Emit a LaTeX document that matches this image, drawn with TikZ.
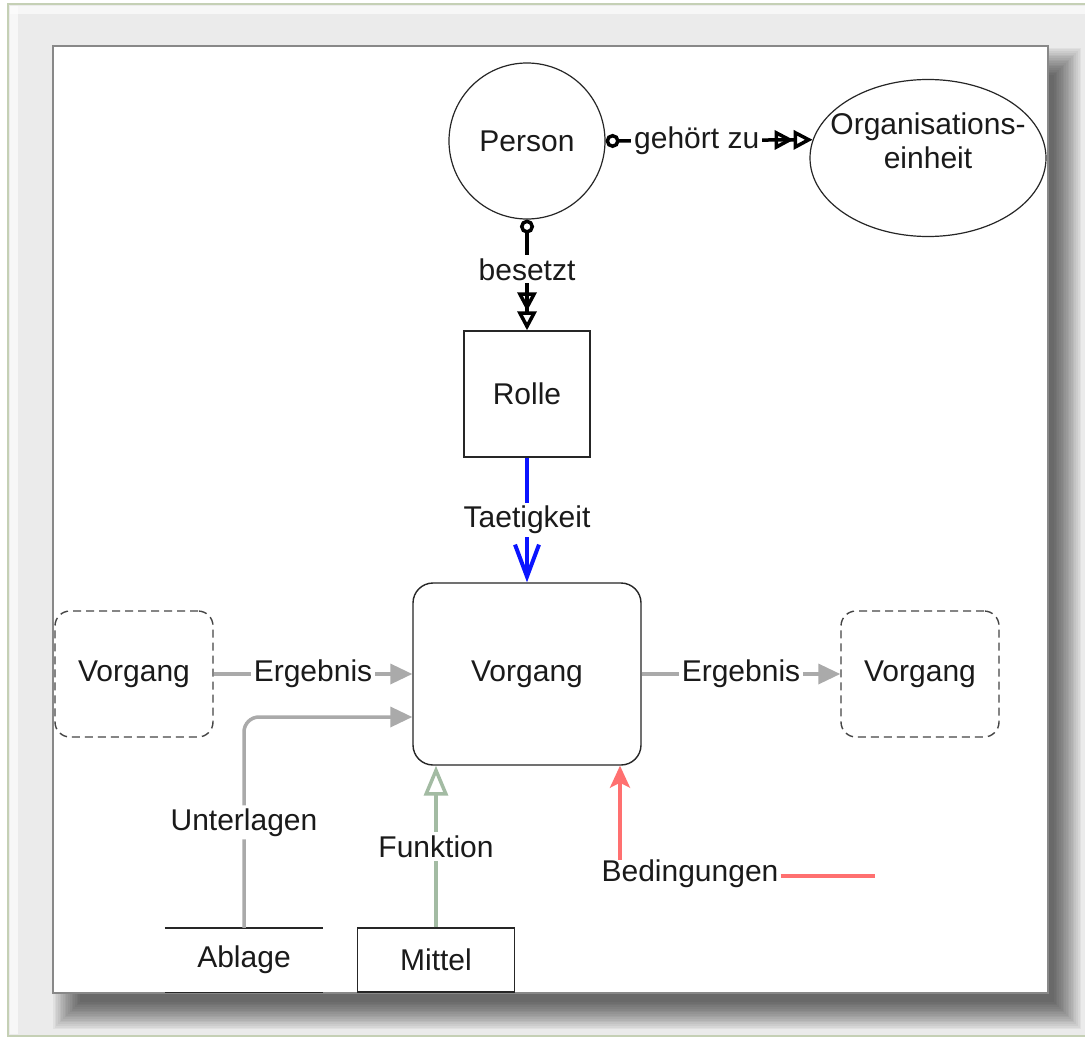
\documentclass[tikz,border=0pt]{standalone}
\usepackage{fontspec}
\setmainfont{Liberation Sans}
\usetikzlibrary{arrows.meta,shapes.geometric}
\definecolor{framebg}{HTML}{EBEBEB}
\definecolor{frameline}{HTML}{C5D0B5}
\definecolor{canvasline}{HTML}{888888}
\definecolor{conngrey}{HTML}{AAAAAA}
\definecolor{conngreen}{HTML}{A3BBA3}
\definecolor{connred}{HTML}{FF7070}
\definecolor{connblue}{HTML}{0A14FF}
\definecolor{dashline}{HTML}{444444}
\definecolor{txt}{HTML}{1A1A1A}
\tikzset{
  lbl/.style={font=\fontsize{30}{35}\selectfont, text=txt, inner sep=2pt},
  box/.style={lbl, draw=black!85, line width=1.4pt},
  dashbox/.style={lbl, draw=dashline, line width=1.4pt, dash pattern=on 8pt off 5pt, rounded corners=15pt, minimum width=158pt, minimum height=126pt},
  blackconn/.style={draw=black, line width=3.5pt},
  greyconn/.style={draw=conngrey, line width=3.5pt},
  cut/.style={lbl, fill=white, inner sep=3pt},
  dtri/.tip={Triangle[open,length=19pt,width=19pt,line width=3.5pt]},
  ocirc/.tip={Circle[open,length=14pt,width=14pt,line width=3.5pt]}
}
\begin{document}
\begin{tikzpicture}[x=1pt,y=-1pt]
\useasboundingbox (0,0) rectangle (1085,1041);
% frame
\fill[white] (0,0) rectangle (1085,1041);
\filldraw[fill=framebg, draw=frameline, line width=1.5pt] (8,4) rectangle (1095,1036);
\fill[white,opacity=0.6] (10,6) rectangle (1095,14);
\fill[white,opacity=0.6] (10,6) rectangle (18,1034);
% shadow
\foreach \i in {0,...,16}{
  \fill[black,opacity=0.045] (80-1.7*\i,75-1.7*\i) rectangle (1054+1.7*\i,1002+1.7*\i);
}
% canvas
\filldraw[fill=white, draw=canvasline, line width=1.5pt] (53,46) rectangle (1048,993);

% nodes
\node[box, circle, minimum size=156pt, line width=1.2pt] (person) at (527,141) {Person};
\node[draw=black!85, line width=1.2pt, ellipse, minimum width=236pt, minimum height=157pt] (org) at (928,158) {};
\node[lbl, align=center] (orgtxt) at (928,141) {Organisations-\\[-1pt]einheit};
\node[box, minimum width=126pt, minimum height=126pt] (rolle) at (527,394) {Rolle};
\node[box, rounded corners=20pt, minimum width=228pt, minimum height=182pt] (vorg) at (527,674) {Vorgang};
\node[dashbox] (vleft) at (134,674) {Vorgang};
\node[dashbox] (vright) at (920,674) {Vorgang};
\node[lbl, minimum width=158pt, minimum height=64pt] (ablage) at (244,960) {Ablage};
\draw[black!85, line width=1.4pt] (ablage.north west) -- (ablage.north east);
\draw[black!85, line width=1.4pt] (ablage.south west) -- (ablage.south east);
\node[box, minimum width=157pt, minimum height=64pt] (mittel) at (436,960) {Mittel};
\node[lbl] (bed) at (690,874) {Bedingungen};
\coordinate (bedend) at (875,876);

% connectors
\draw[blackconn, {ocirc}-{dtri[]dtri[]}] (person.east) -- node[cut, pos=0.44]{gehört zu} (org.171.6);
\draw[blackconn, {ocirc}-{dtri[]dtri[]}] (person.south) -- node[cut, pos=0.45]{besetzt} (rolle.north);
\draw[draw=connblue, line width=4pt, -{Straight Barb[length=32pt,width=24pt,line width=4pt]}] (rolle.south) -- node[cut]{Taetigkeit} (vorg.north);
\draw[greyconn, -{Triangle[length=22pt,width=20pt]}] (vleft.east) -- node[cut]{Ergebnis} (vorg.west);
\draw[greyconn, -{Triangle[length=22pt,width=20pt]}] (vorg.east) -- node[cut]{Ergebnis} (vright.west);
\draw[greyconn, rounded corners=15pt, -{Triangle[length=22pt,width=20pt]}] (ablage.north) |- node[cut, pos=0.25]{Unterlagen} ([yshift=-43pt]vorg.west);
\draw[draw=conngreen, line width=3.5pt, -{Triangle[open,length=30pt,width=24pt,line width=3.5pt]}] (mittel.north) -- node[cut, pos=0.5]{Funktion} (mittel.north |- vorg.south);
\draw[draw=connred, line width=3.5pt, -{Stealth[length=22pt,width=20pt,inset=5pt]}] ([xshift=-70pt,yshift=-2pt]bed.north) -- ([xshift=93pt]vorg.south);
\draw[draw=connred, line width=3.5pt] ([yshift=-2pt]bed.east) -- ([yshift=-2pt]bed.east -| bedend);
\end{tikzpicture}
\end{document}
